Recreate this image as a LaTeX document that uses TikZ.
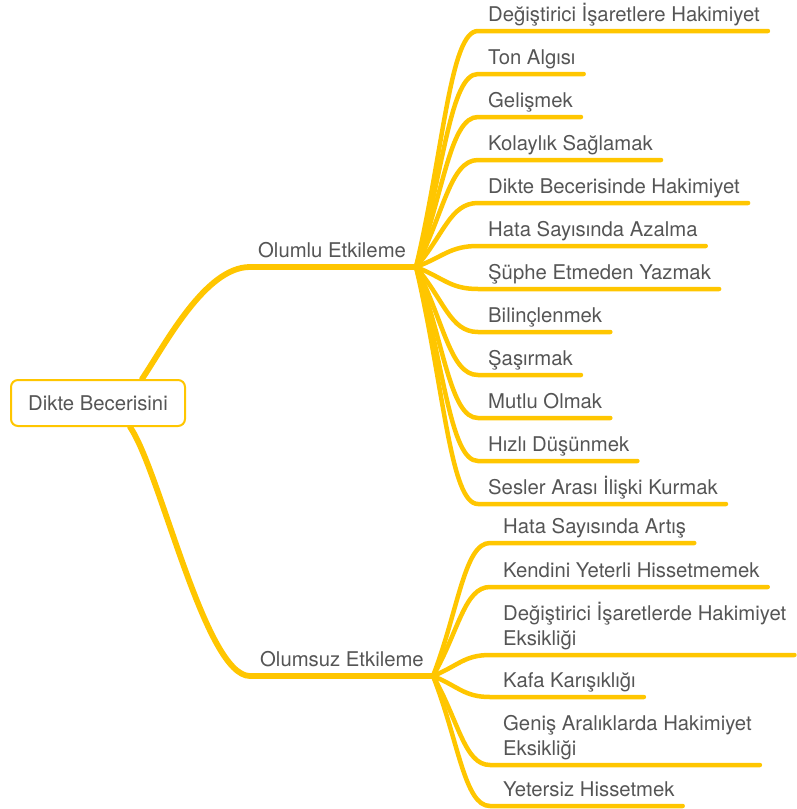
\documentclass[tikz,border=0pt]{standalone}
\usepackage{fontspec}
\setmainfont{TeX Gyre Heros}
\usetikzlibrary{calc,backgrounds}

\definecolor{branchyellow}{RGB}{255,198,0}
\definecolor{labelgray}{RGB}{85,85,85}

\tikzset{
  mmtext/.style={inner sep=0pt, text=labelgray, font=\fontsize{20.3}{25}\selectfont},
  leaf/.style={mmtext, anchor=base west},
  rootbox/.style={mmtext, draw=branchyellow, line width=2pt, fill=white,
    rounded corners=7pt, minimum width=174pt, minimum height=46pt},
  trunk/.style={draw=branchyellow, line width=5.8pt, line cap=round},
  twig/.style={draw=branchyellow, line width=4.5pt, line cap=round},
}

% S-shaped twig from a junction to the start of an underline, then along it
\newcommand\twigline[3]{%
  \draw[twig] let \p1=(#1), \p2=(#2) in (\p1)
    .. controls ({\x1+0.45*(\x2-\x1)},{\y1+0.5*(\y2-\y1)})
       and ({\x1+0.55*(\x2-\x1)},\y2) .. (\p2) -- (#3);}

\begin{document}
\begin{tikzpicture}[x=1pt,y=-1pt]
\useasboundingbox (0,0) rectangle (797,809);

% central topic and the two main branches
\node[rootbox] (root) at (98,403) {Dikte Becerisini};
\node[leaf] (pos) at (258,257) {Olumlu Etkileme};
\node[leaf] (neg) at (260,666) {Olumsuz Etkileme};
\coordinate (J1) at (416,267);
\coordinate (J2) at (433,676);

\begin{scope}[on background layer]
  \draw[trunk] ($(root.north)+(44,0)$) .. controls (165,345) and (205,267) .. (250,267) -- (J1);
  \draw[trunk] ($(root.south)+(32,0)$) .. controls (160,470) and (205,676) .. (250,676) -- (J2);
\end{scope}

% positive effects
\foreach \i/\txt in {1/{Değiştirici İşaretlere Hakimiyet}, 2/{Ton Algısı}, 3/{Gelişmek},
    4/{Kolaylık Sağlamak}, 5/{Dikte Becerisinde Hakimiyet}, 6/{Hata Sayısında Azalma},
    7/{Şüphe Etmeden Yazmak}, 8/{Bilinçlenmek}, 9/{Şaşırmak}, 10/{Mutlu Olmak},
    11/{Hızlı Düşünmek}, 12/{Sesler Arası İlişki Kurmak}} {
  \node[leaf] (up\i) at (488,{31+43*(\i-1)-9.5}) {\txt};
  \coordinate (ups\i) at (478,{31+43*(\i-1)});
  \coordinate (upe\i) at ($(up\i.base east |- ups\i)+(8,0)$);
  \twigline{J1}{ups\i}{upe\i}
}

% negative effects
\node[leaf] (dn1) at (503,533.5) {Hata Sayısında Artış};
\node[leaf] (dn2) at (503,577.5) {Kendini Yeterli Hissetmemek};
\node[leaf] (dn3) at (503,620.5) {Değiştirici İşaretlerde Hakimiyet};
\node[leaf] (dn3b) at (503,645.5) {Eksikliği};
\node[leaf] (dn4) at (503,687.5) {Kafa Karışıklığı};
\node[leaf] (dn5) at (503,730.5) {Geniş Aralıklarda Hakimiyet};
\node[leaf] (dn5b) at (503,755.5) {Eksikliği};
\node[leaf] (dn6) at (503,796.5) {Yetersiz Hissetmek};

\foreach \i/\yy in {1/543, 2/587, 3/655, 4/697, 5/765, 6/806} {
  \coordinate (dns\i) at (490,\yy);
  \coordinate (dne\i) at ($(dn\i.base east |- dns\i)+(8,0)$);
  \twigline{J2}{dns\i}{dne\i}
}
\end{tikzpicture}
\end{document}
